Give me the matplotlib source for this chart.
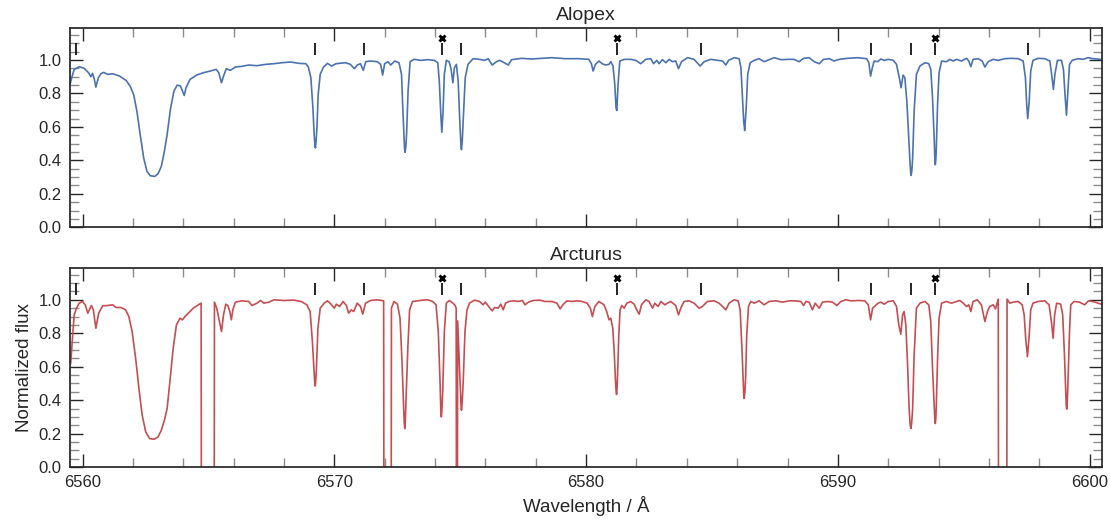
import matplotlib
import matplotlib.pyplot as plt
import numpy as np
from matplotlib.ticker import MultipleLocator

matplotlib.use("Agg")

plt.rcParams["font.family"] = ["Liberation Sans", "DejaVu Sans"]

# Alopex spectrum (wavelength in Angstrom, normalized flux)
alopex = [
    (6559.51, 0.858), (6559.57, 0.894), (6559.67, 0.944), (6559.87, 0.960),
    (6560.07, 0.950), (6560.24, 0.924), (6560.33, 0.900), (6560.40, 0.920),
    (6560.47, 0.884), (6560.53, 0.838), (6560.63, 0.894), (6560.73, 0.918),
    (6560.84, 0.926), (6561.00, 0.914), (6561.20, 0.918), (6561.47, 0.904),
    (6561.73, 0.878), (6561.89, 0.844), (6562.03, 0.794), (6562.16, 0.694),
    (6562.29, 0.554), (6562.43, 0.414), (6562.56, 0.334), (6562.69, 0.308),
    (6562.87, 0.304), (6563.00, 0.320), (6563.13, 0.364), (6563.24, 0.444),
    (6563.36, 0.554), (6563.49, 0.704), (6563.63, 0.814), (6563.76, 0.850),
    (6563.89, 0.844), (6563.97, 0.814), (6564.04, 0.788), (6564.11, 0.834),
    (6564.27, 0.884), (6564.53, 0.910), (6564.80, 0.924), (6565.07, 0.934),
    (6565.31, 0.944), (6565.41, 0.924), (6565.52, 0.864), (6565.60, 0.904),
    (6565.71, 0.948), (6565.87, 0.938), (6566.07, 0.958), (6566.33, 0.962),
    (6566.60, 0.970), (6566.93, 0.966), (6567.27, 0.974), (6567.60, 0.978),
    (6567.93, 0.984), (6568.27, 0.988), (6568.60, 0.980), (6568.87, 0.978),
    (6568.97, 0.958), (6569.07, 0.894), (6569.15, 0.714), (6569.20, 0.554),
    (6569.23, 0.490), (6569.25, 0.474), (6569.27, 0.500), (6569.31, 0.594),
    (6569.36, 0.794), (6569.44, 0.914),
    (6569.57, 0.958), (6569.73, 0.980), (6569.89, 0.964), (6570.07, 0.978),
    (6570.44, 0.984), (6570.64, 0.974), (6570.80, 0.948), (6570.91, 0.970),
    (6571.04, 0.978), (6571.15, 0.938), (6571.25, 0.990), (6571.44, 0.994),
    (6571.71, 0.990), (6571.84, 0.974), (6571.92, 0.910), (6572.00, 0.978),
    (6572.13, 0.990), (6572.24, 0.970), (6572.40, 0.994), (6572.57, 0.984),
    (6572.67, 0.914), (6572.72, 0.714), (6572.77, 0.534), (6572.79, 0.470),
    (6572.81, 0.448), (6572.84, 0.480), (6572.87, 0.554), (6572.93, 0.814),
    (6573.01, 0.990), (6573.17, 1.004),
    (6573.44, 0.998), (6573.71, 1.002), (6573.97, 0.998), (6574.11, 0.984),
    (6574.17, 0.874), (6574.23, 0.674), (6574.27, 0.568), (6574.32, 0.694),
    (6574.37, 0.914), (6574.45, 0.998), (6574.56, 0.990), (6574.64, 0.944),
    (6574.71, 0.864), (6574.77, 0.954), (6574.85, 0.974), (6574.92, 0.874),
    (6574.99, 0.614), (6575.03, 0.490), (6575.05, 0.464), (6575.08, 0.510),
    (6575.12, 0.634), (6575.20, 0.894),
    (6575.31, 0.974), (6575.51, 1.008), (6575.77, 1.004), (6575.97, 0.998),
    (6576.11, 1.008), (6576.27, 0.970), (6576.44, 0.990), (6576.57, 0.998),
    (6576.75, 0.984), (6576.91, 0.970), (6577.04, 1.002), (6577.44, 1.010),
    (6577.84, 1.006), (6578.24, 1.010), (6578.64, 1.014), (6579.17, 1.008),
    (6579.71, 1.008), (6580.11, 1.004), (6580.21, 0.978), (6580.28, 0.934),
    (6580.37, 0.974), (6580.51, 0.994), (6580.64, 0.978), (6580.77, 0.970),
    (6580.91, 0.974), (6580.98, 0.990), (6581.07, 0.964), (6581.14, 0.854),
    (6581.19, 0.714), (6581.22, 0.698), (6581.27, 0.854), (6581.34, 0.994),
    (6581.51, 1.004), (6581.77, 1.004), (6581.97, 0.998), (6582.17, 0.978),
    (6582.37, 1.004), (6582.57, 1.008), (6582.68, 0.978), (6582.81, 0.998),
    (6582.90, 0.978), (6583.03, 1.002), (6583.17, 0.984), (6583.30, 1.004),
    (6583.43, 0.990), (6583.56, 0.994), (6583.67, 0.948), (6583.79, 0.990),
    (6584.03, 1.014), (6584.29, 1.004), (6584.53, 0.964), (6584.69, 0.990),
    (6584.95, 1.004), (6585.22, 0.998), (6585.42, 0.994), (6585.55, 0.970),
    (6585.66, 0.998), (6585.88, 1.014), (6586.08, 1.008), (6586.15, 0.954),
    (6586.21, 0.774), (6586.26, 0.634), (6586.30, 0.578), (6586.36, 0.714),
    (6586.42, 0.914), (6586.52, 0.984), (6586.68, 0.998), (6586.87, 1.008),
    (6587.07, 0.990), (6587.27, 1.002), (6587.47, 1.014), (6587.74, 1.002),
    (6588.00, 1.004), (6588.26, 1.004), (6588.46, 0.990), (6588.64, 1.010),
    (6588.86, 1.014), (6589.06, 0.990), (6589.26, 0.978), (6589.43, 1.004),
    (6589.66, 1.008), (6589.85, 0.994), (6590.05, 1.004), (6590.38, 1.010),
    (6590.78, 1.014), (6591.14, 1.008), (6591.23, 0.984), (6591.30, 0.904),
    (6591.37, 0.954), (6591.44, 0.994), (6591.58, 0.990), (6591.71, 1.006),
    (6591.84, 0.998), (6592.00, 1.004), (6592.20, 0.998), (6592.33, 0.974),
    (6592.44, 0.894), (6592.51, 0.834), (6592.59, 0.910), (6592.66, 0.894),
    (6592.74, 0.754), (6592.82, 0.514), (6592.87, 0.374), (6592.89, 0.330),
    (6592.91, 0.310), (6592.94, 0.340), (6592.97, 0.414), (6593.03, 0.694),
    (6593.12, 0.914), (6593.26, 0.964),
    (6593.46, 0.984), (6593.61, 0.978), (6593.69, 0.944), (6593.76, 0.774),
    (6593.83, 0.514), (6593.85, 0.410), (6593.87, 0.374), (6593.89, 0.400),
    (6593.91, 0.474), (6593.96, 0.734),
    (6594.02, 0.924), (6594.12, 0.994), (6594.31, 0.990), (6594.45, 1.004),
    (6594.58, 0.994), (6594.71, 1.004), (6594.91, 0.994), (6595.11, 1.010),
    (6595.20, 0.994), (6595.28, 0.960), (6595.37, 1.004), (6595.57, 1.008),
    (6595.73, 0.994), (6595.84, 0.958), (6595.97, 0.990), (6596.17, 1.004),
    (6596.37, 0.998), (6596.63, 1.008), (6596.89, 1.010), (6597.16, 1.008),
    (6597.36, 0.994), (6597.45, 0.894), (6597.50, 0.734), (6597.54, 0.650),
    (6597.60, 0.754), (6597.66, 0.934), (6597.75, 0.998), (6597.95, 1.010),
    (6598.22, 1.008), (6598.42, 0.994), (6598.49, 0.914), (6598.56, 0.824),
    (6598.62, 0.914), (6598.72, 0.998), (6598.88, 0.998), (6598.96, 0.944),
    (6599.03, 0.774), (6599.08, 0.670), (6599.13, 0.794), (6599.20, 0.974),
    (6599.31, 0.998), (6599.54, 1.008), (6599.74, 1.004), (6599.94, 1.014),
    (6600.13, 1.008), (6600.46, 1.004),
]

# Arcturus spectrum; telluric-masked gaps drop below zero
arcturus = [
    (6559.53, 0.620), (6559.60, 0.770), (6559.67, 0.910), (6559.76, 0.950),
    (6559.87, 0.980), (6560.00, 0.990), (6560.11, 0.970), (6560.21, 0.920),
    (6560.35, 0.966), (6560.43, 0.940), (6560.53, 0.830), (6560.64, 0.920),
    (6560.80, 0.964), (6561.00, 0.966), (6561.20, 0.970), (6561.33, 0.954),
    (6561.53, 0.954), (6561.71, 0.940), (6561.84, 0.900), (6561.97, 0.810),
    (6562.11, 0.650), (6562.24, 0.470), (6562.37, 0.310), (6562.51, 0.210),
    (6562.67, 0.170), (6562.84, 0.166), (6563.00, 0.180), (6563.13, 0.220),
    (6563.27, 0.290), (6563.36, 0.350), (6563.47, 0.510), (6563.60, 0.710),
    (6563.73, 0.850), (6563.87, 0.890), (6563.97, 0.880), (6564.07, 0.900),
    (6564.20, 0.920), (6564.40, 0.950), (6564.60, 0.970), (6564.71, 0.980),
    (6564.72, -0.2), (6565.23, -0.2), (6565.24, 0.986), (6565.33, 0.950),
    (6565.44, 0.870), (6565.52, 0.810), (6565.60, 0.910), (6565.69, 0.974),
    (6565.77, 0.966), (6565.85, 0.930), (6565.91, 0.880), (6565.97, 0.940),
    (6566.07, 0.986), (6566.33, 0.994), (6566.60, 0.990), (6566.73, 0.966),
    (6566.93, 0.980), (6567.07, 0.996), (6567.20, 0.980), (6567.40, 0.986),
    (6567.60, 1.000), (6568.00, 0.996), (6568.40, 0.998), (6568.69, 0.990),
    (6568.91, 0.970), (6569.04, 0.930), (6569.13, 0.750), (6569.20, 0.570),
    (6569.22, 0.510), (6569.24, 0.484), (6569.26, 0.510), (6569.29, 0.590),
    (6569.35, 0.830), (6569.44, 0.950),
    (6569.60, 0.980), (6569.73, 0.994), (6569.87, 0.974), (6570.00, 0.950),
    (6570.08, 0.974), (6570.21, 0.960), (6570.35, 0.990), (6570.48, 0.966),
    (6570.57, 0.920), (6570.67, 0.940), (6570.77, 0.930), (6570.91, 0.980),
    (6571.04, 0.960), (6571.13, 0.914), (6571.24, 0.980), (6571.44, 0.996),
    (6571.71, 1.000), (6571.96, 0.994), (6571.97, -0.2), (6572.26, -0.2),
    (6572.27, 0.950), (6572.37, 0.990), (6572.51, 0.974), (6572.61, 0.890),
    (6572.69, 0.630), (6572.75, 0.370), (6572.78, 0.260), (6572.80, 0.230),
    (6572.82, 0.270), (6572.85, 0.410), (6572.92, 0.710), (6572.99, 0.940),
    (6573.11, 0.990), (6573.31, 0.994),
    (6573.51, 0.998), (6573.71, 1.000), (6573.91, 0.990), (6574.04, 0.970),
    (6574.13, 0.810), (6574.20, 0.510), (6574.23, 0.340), (6574.25, 0.300),
    (6574.27, 0.330), (6574.31, 0.470), (6574.37, 0.810), (6574.45, 0.980),
    (6574.57, 0.996), (6574.71, 0.980),
    (6574.80, 0.966), (6574.84, 0.950), (6574.85, -0.2), (6574.89, -0.2),
    (6574.90, 0.874), (6574.97, 0.610), (6575.03, 0.380), (6575.05, 0.340),
    (6575.08, 0.390), (6575.12, 0.510), (6575.19, 0.810), (6575.27, 0.940),
    (6575.37, 0.980), (6575.57, 0.998),
    (6575.77, 0.990), (6575.91, 0.970), (6576.00, 0.986), (6576.13, 0.960),
    (6576.27, 0.934), (6576.37, 0.954), (6576.51, 0.950), (6576.61, 0.974),
    (6576.71, 0.940), (6576.80, 0.980), (6576.93, 0.990), (6577.11, 0.994),
    (6577.31, 0.990), (6577.47, 0.996), (6577.57, 0.970), (6577.71, 0.986),
    (6577.91, 0.996), (6578.17, 0.998), (6578.37, 0.990), (6578.64, 0.990),
    (6578.84, 0.980), (6578.97, 0.946), (6579.08, 0.970), (6579.24, 0.994),
    (6579.44, 0.990), (6579.64, 0.994), (6579.84, 0.990), (6580.04, 0.980),
    (6580.17, 0.950), (6580.25, 0.900), (6580.35, 0.960), (6580.51, 0.990),
    (6580.71, 0.970), (6580.82, 0.930), (6580.91, 0.880), (6580.98, 0.890),
    (6581.06, 0.830), (6581.11, 0.710), (6581.17, 0.510), (6581.19, 0.460),
    (6581.21, 0.434), (6581.23, 0.470), (6581.25, 0.550), (6581.30, 0.790),
    (6581.35, 0.940), (6581.42, 0.966),
    (6581.51, 0.950), (6581.62, 0.980), (6581.77, 0.990), (6581.91, 0.974),
    (6582.01, 0.940), (6582.11, 0.914), (6582.20, 0.970), (6582.37, 1.000),
    (6582.50, 0.990), (6582.64, 0.950), (6582.73, 0.980), (6582.86, 0.960),
    (6582.97, 0.990), (6583.13, 0.970), (6583.23, 0.980), (6583.36, 0.990),
    (6583.56, 0.966), (6583.67, 0.910), (6583.76, 0.950), (6583.89, 0.990),
    (6584.09, 0.994), (6584.29, 0.980), (6584.49, 0.950), (6584.62, 0.960),
    (6584.82, 0.990), (6585.09, 0.994), (6585.28, 0.980), (6585.42, 0.960),
    (6585.55, 0.940), (6585.68, 0.980), (6585.88, 1.000), (6586.04, 0.994),
    (6586.12, 0.940), (6586.19, 0.710), (6586.24, 0.510), (6586.26, 0.440),
    (6586.28, 0.410), (6586.31, 0.450), (6586.34, 0.550), (6586.38, 0.790),
    (6586.45, 0.960), (6586.54, 0.990),
    (6586.68, 0.980), (6586.87, 0.994), (6587.07, 0.970), (6587.27, 0.990),
    (6587.54, 0.994), (6587.80, 0.986), (6588.07, 0.994), (6588.26, 0.994),
    (6588.53, 0.990), (6588.64, 0.966), (6588.73, 0.990), (6588.86, 0.986),
    (6588.99, 0.940), (6589.10, 0.980), (6589.26, 0.950), (6589.39, 0.986),
    (6589.59, 0.990), (6589.79, 0.986), (6589.96, 0.966), (6590.12, 0.990),
    (6590.32, 1.000), (6590.52, 0.994), (6590.81, 0.996), (6591.07, 0.994),
    (6591.21, 0.970), (6591.30, 0.880), (6591.38, 0.950), (6591.50, 0.966),
    (6591.60, 0.980), (6591.71, 0.986), (6591.84, 0.974), (6592.00, 0.990),
    (6592.20, 0.994), (6592.33, 0.960), (6592.42, 0.850), (6592.50, 0.794),
    (6592.57, 0.910), (6592.63, 0.930), (6592.70, 0.850), (6592.77, 0.610),
    (6592.83, 0.350), (6592.87, 0.255), (6592.90, 0.230), (6592.93, 0.260),
    (6592.97, 0.350), (6593.03, 0.670),
    (6593.12, 0.950), (6593.26, 0.980), (6593.46, 0.990), (6593.61, 0.970),
    (6593.69, 0.870), (6593.76, 0.590), (6593.83, 0.350), (6593.85, 0.285),
    (6593.87, 0.260), (6593.89, 0.290), (6593.91, 0.370), (6593.96, 0.650),
    (6594.02, 0.890), (6594.12, 0.980),
    (6594.31, 0.990), (6594.51, 0.980), (6594.71, 0.990), (6594.84, 0.996),
    (6594.98, 0.980), (6595.11, 0.960), (6595.20, 0.970), (6595.28, 0.930),
    (6595.37, 0.990), (6595.54, 1.000), (6595.70, 0.970), (6595.84, 0.870),
    (6595.94, 0.930), (6596.03, 0.960), (6596.17, 0.970), (6596.26, 0.946),
    (6596.37, 1.004), (6596.38, -0.2), (6596.71, -0.2), (6596.72, 1.004),
    (6596.83, 0.980), (6596.96, 0.986), (6597.16, 0.990), (6597.32, 0.970),
    (6597.40, 0.910), (6597.46, 0.770), (6597.53, 0.660), (6597.60, 0.790),
    (6597.66, 0.940), (6597.75, 0.980), (6597.95, 0.990), (6598.22, 0.994),
    (6598.39, 0.970), (6598.48, 0.870), (6598.55, 0.770), (6598.61, 0.910),
    (6598.69, 0.980), (6598.85, 0.974), (6598.93, 0.910), (6599.00, 0.670),
    (6599.05, 0.450), (6599.07, 0.370), (6599.09, 0.346), (6599.11, 0.380),
    (6599.14, 0.510), (6599.20, 0.810),
    (6599.25, 0.970), (6599.38, 0.990), (6599.60, 0.986), (6599.80, 0.970),
    (6599.96, 0.994), (6600.13, 0.990), (6600.33, 0.980), (6600.46, 0.974),
]

# line identifications
line_marks = [6559.73, 6569.25, 6571.17, 6574.27, 6575.04, 6581.21,
              6584.56, 6591.31, 6592.91, 6593.87, 6597.54]
cross_marks = [6574.27, 6581.21, 6593.87]

panels = [("Alopex", alopex, "#4C72B0"), ("Arcturus", arcturus, "#C44E52")]

fig, axes = plt.subplots(2, 1, figsize=(11.1, 5.23), dpi=100)
fig.subplots_adjust(left=0.063, right=0.993, top=0.946, bottom=0.107,
                    hspace=0.205)

for ax, (name, spec, color) in zip(axes, panels):
    wave, flux = np.array(spec).T
    ax.plot(wave, flux, color=color, lw=1.2)

    ax.vlines(line_marks, 1.03, 1.10, color="k", lw=1.2)
    ax.plot(cross_marks, [1.13] * len(cross_marks), "kx", ms=5, mew=2.1)

    ax.set_xlim(6559.5, 6600.5)
    ax.set_ylim(0, 1.19)
    ax.set_title(name, fontsize=14, color="#262626")

    ax.xaxis.set_major_locator(MultipleLocator(10))
    ax.xaxis.set_minor_locator(MultipleLocator(2))
    ax.yaxis.set_major_locator(MultipleLocator(0.2))
    ax.yaxis.set_minor_locator(MultipleLocator(0.05))
    ax.tick_params(which="both", direction="in", top=True, right=True,
                   labelsize=12, labelcolor="#262626")
    ax.tick_params(which="major", length=9.5, width=1.0, color="#262626",
                   pad=6)
    ax.tick_params(which="minor", length=6.5, width=1.0, color="0.55")
    for s in ax.spines.values():
        s.set_color("#262626")
        s.set_linewidth(1.25)

axes[0].tick_params(labelbottom=False)
axes[1].set_xlabel("Wavelength / Å", fontsize=13.5, color="#262626")
axes[1].set_ylabel("Normalized flux", fontsize=13.5, color="#262626")

plt.savefig("out.png", dpi=100)
plt.close()
